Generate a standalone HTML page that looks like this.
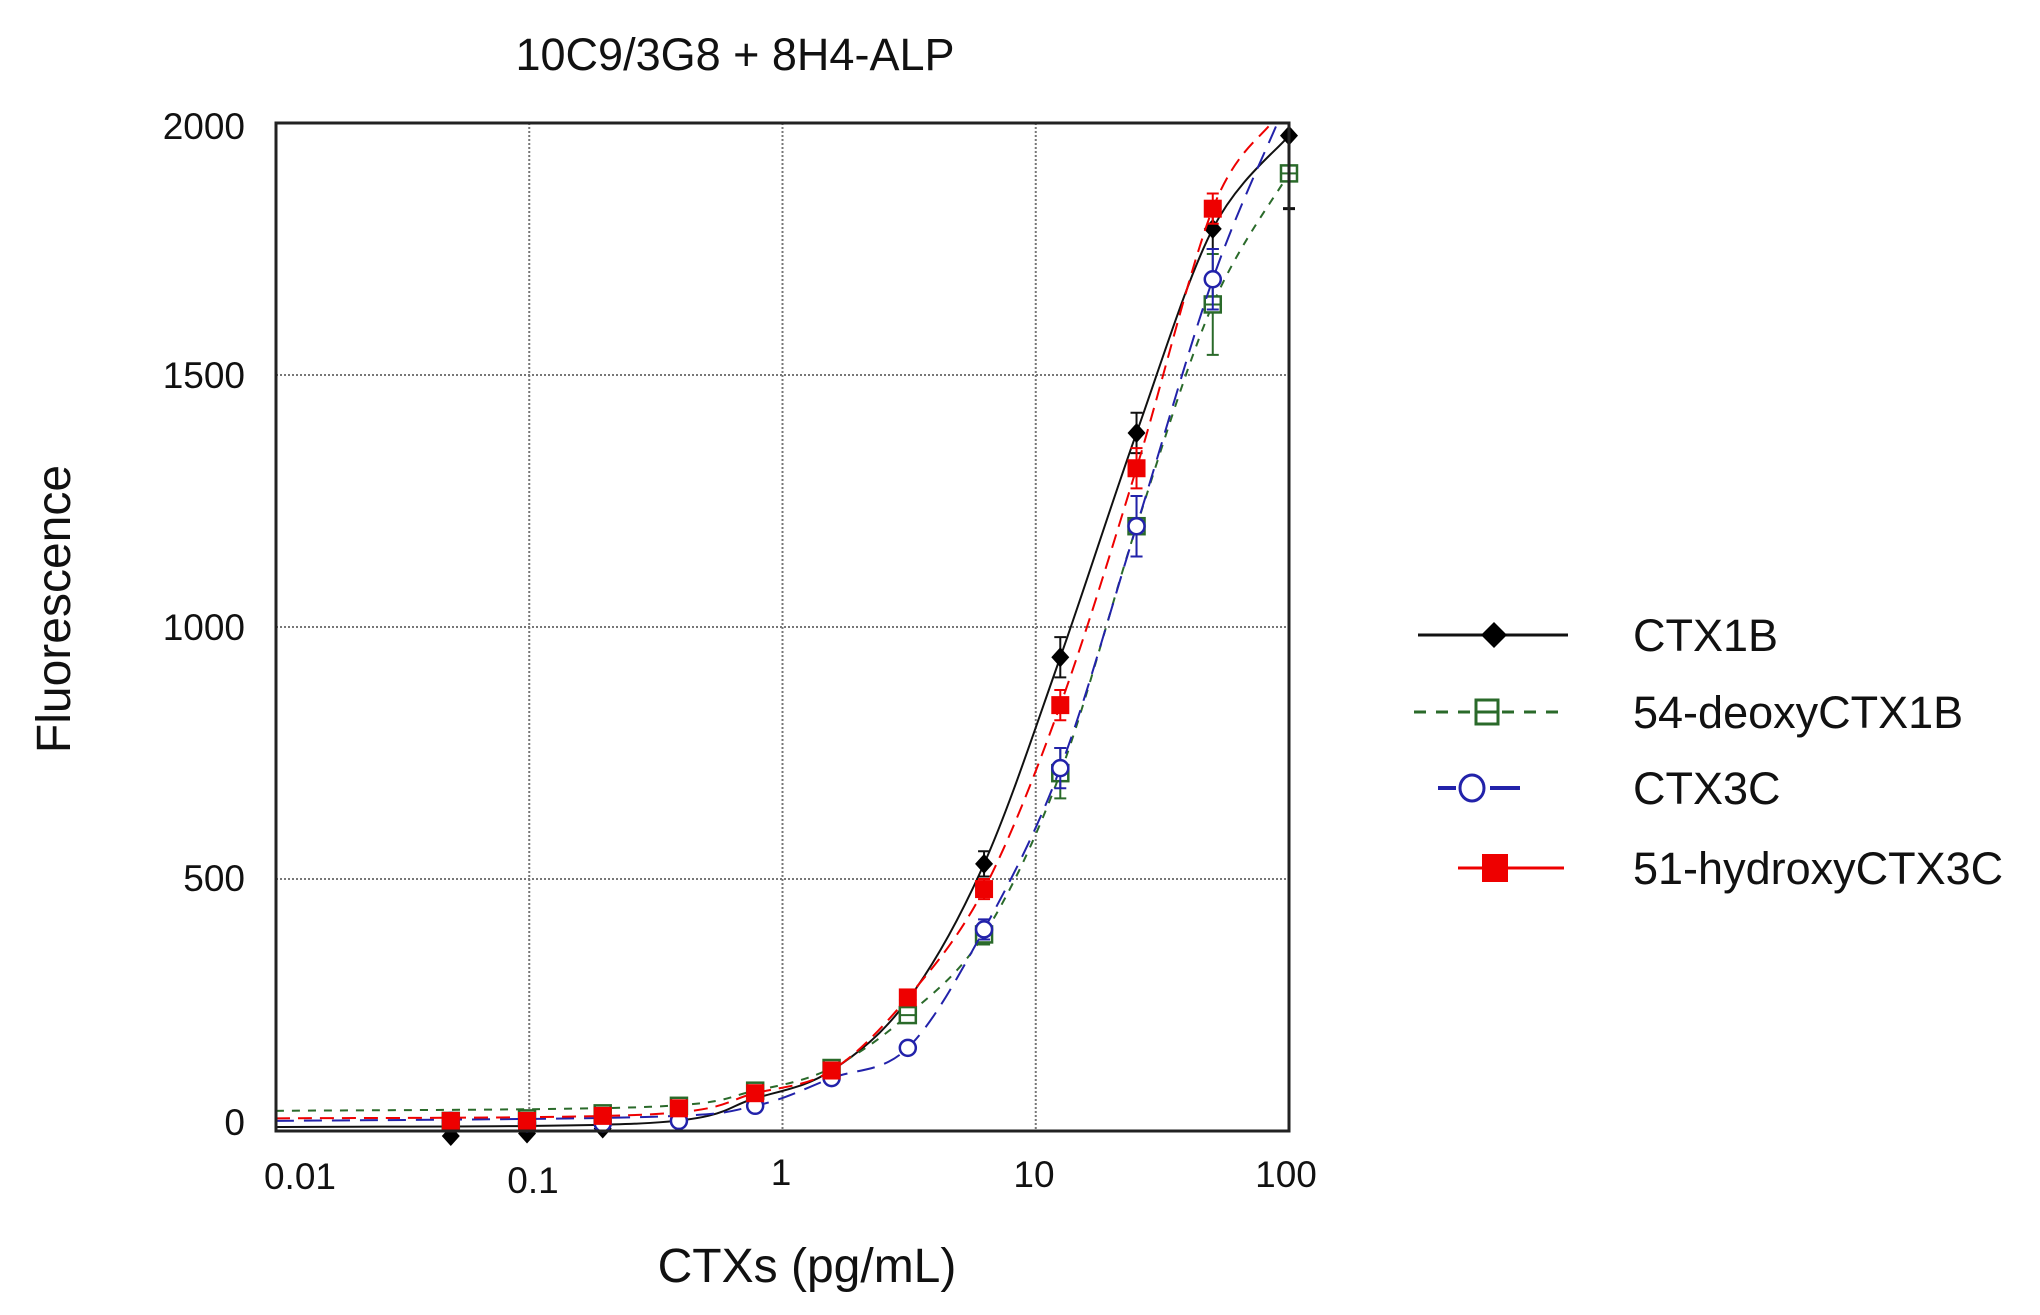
<!DOCTYPE html>
<html><head><meta charset="utf-8"><style>
html,body{margin:0;padding:0;background:#fff;}
svg{display:block;font-family:"Liberation Sans",sans-serif;}
</style></head><body>
<svg id="s" width="2040" height="1315" xmlns="http://www.w3.org/2000/svg">
<g fill="#111">
<text x="735" y="70" text-anchor="middle" font-size="45">10C9/3G8 + 8H4-ALP</text>
<text x="807" y="1282" text-anchor="middle" font-size="48">CTXs (pg/mL)</text>
<text transform="translate(70,609) rotate(-90)" text-anchor="middle" font-size="48">Fluorescence</text>
</g>
<g font-size="37" fill="#111">
<text x="245" y="139" text-anchor="end">2000</text>
<text x="245" y="388" text-anchor="end">1500</text>
<text x="245" y="640" text-anchor="end">1000</text>
<text x="245" y="891" text-anchor="end">500</text>
<text x="245" y="1135" text-anchor="end">0</text>
<text x="300" y="1189" text-anchor="middle">0.01</text>
<text x="533" y="1193" text-anchor="middle">0.1</text>
<text x="781" y="1185" text-anchor="middle">1</text>
<text x="1034" y="1187" text-anchor="middle">10</text>
<text x="1286" y="1187" text-anchor="middle">100</text>
</g>
<g id="grid" stroke="#777" stroke-width="2" stroke-dasharray="2,2"></g>
<g id="series"></g>
<rect x="276" y="123" width="1013" height="1008" fill="none" stroke="#222" stroke-width="3"/>
<g font-size="45" fill="#111">
<line x1="1418" y1="635" x2="1568" y2="635" stroke="#111" stroke-width="3"/>
<polygon points="1494,622 1507,635 1494,648 1481,635" fill="#000"/>
<text x="1633" y="651">CTX1B</text>
<line x1="1414" y1="712" x2="1568" y2="712" stroke="#2a6a2a" stroke-width="3" stroke-dasharray="12,10"/>
<rect x="1476" y="700" width="22" height="24" fill="#fff" stroke="#2a6a2a" stroke-width="3"/>
<line x1="1476" y1="712" x2="1498" y2="712" stroke="#2a6a2a" stroke-width="3"/>
<text x="1633" y="728">54-deoxyCTX1B</text>
<line x1="1438" y1="788" x2="1456" y2="788" stroke="#2222aa" stroke-width="4"/>
<line x1="1490" y1="788" x2="1520" y2="788" stroke="#2222aa" stroke-width="4"/>
<ellipse cx="1472" cy="788" rx="12" ry="13" fill="#fff" stroke="#2222aa" stroke-width="3"/>
<text x="1633" y="804">CTX3C</text>
<line x1="1458" y1="868" x2="1564" y2="868" stroke="#e00" stroke-width="3"/>
<rect x="1482" y="854" width="26" height="28" fill="#e00"/>
<text x="1633" y="884">51-hydroxyCTX3C</text>
</g>
</svg>
<script>
const X=v=>276+(Math.log10(v)+2)*253.25, Y=v=>1131-v*0.504;
const g=document.getElementById('grid');let h='';
for(let d=1;d<4;d++){const x=276+d*253.25;h+=`<line x1="${x}" y1="123" x2="${x}" y2="1131"/>`;}
for(let v=500;v<2000;v+=500){h+=`<line x1="276" y1="${Y(v)}" x2="1289" y2="${Y(v)}"/>`;}
g.innerHTML=h;
const xs=[0.049,0.098,0.195,0.39,0.78,1.5625,3.125,6.25,12.5,25,50,100];
const S=[
{c:'#111',d:'',m:'d',base:8,end:[100,1975],y:[-10,-5,5,25,65,120,260,530,940,1385,1790,1975],e:[0,0,0,0,0,10,15,25,40,40,40,0]},
{c:'#2a6a2a',d:'8,8',m:'s',base:40,end:[100,1900],y:[20,25,35,50,80,125,230,390,710,1200,1640,1900],e:[0,0,0,0,0,10,15,20,50,60,100,0]},
{c:'#2222aa',d:'18,10',m:'o',base:20,end:[90,2000],y:[20,15,15,20,50,105,165,400,720,1200,1690,null],e:[0,0,0,0,0,10,0,20,40,60,60,0]},
{c:'#e00',d:'14,8',m:'r',base:25,end:[85,2000],y:[20,20,30,45,75,120,265,480,845,1315,1830,null],e:[0,0,0,0,0,0,10,20,30,40,30,0]}];
let out='';
S.forEach(s=>{
 let pts=[[X(0.01),Y(s.base)],[X(0.3),Y(s.base+8)]];
 xs.forEach((x,i)=>{if(s.y[i]!==null&&x>=0.7)pts.push([X(x),Y(s.y[i])]);});
 if(s.y[11]===null)pts.push([X(s.end[0]),Y(s.end[1])]);
 let p=`M${pts[0][0]},${pts[0][1]}`;
 for(let i=0;i<pts.length-1;i++){const p0=pts[i-1]||pts[i],p1=pts[i],p2=pts[i+1],p3=pts[i+2]||p2;
  const c1=[p1[0]+(p2[0]-p0[0])/6,p1[1]+(p2[1]-p0[1])/6],c2=[p2[0]-(p3[0]-p1[0])/6,p2[1]-(p3[1]-p1[1])/6];
  p+=` C${c1[0]},${c1[1]} ${c2[0]},${c2[1]} ${p2[0]},${p2[1]}`;}
 out+=`<path d="${p}" fill="none" stroke="${s.c}" stroke-width="2" ${s.d?`stroke-dasharray="${s.d}"`:''}/>`;
 xs.forEach((x,i)=>{const v=s.y[i];if(v===null)return;const cx=X(x),cy=Y(v);
  if(s.e[i]){out+=`<path d="M${cx},${Y(v-s.e[i])}V${Y(v+s.e[i])}M${cx-6},${Y(v-s.e[i])}h12M${cx-6},${Y(v+s.e[i])}h12" stroke="${s.c}" stroke-width="2" fill="none"/>`;}
  if(s.m=='d')out+=`<polygon points="${cx},${cy-10} ${cx+9},${cy} ${cx},${cy+10} ${cx-9},${cy}" fill="#000"/>`;
  if(s.m=='s')out+=`<rect x="${cx-8}" y="${cy-8}" width="16" height="16" fill="#fff" stroke="${s.c}" stroke-width="2.5"/><line x1="${cx-8}" y1="${cy}" x2="${cx+8}" y2="${cy}" stroke="${s.c}" stroke-width="2"/>`;
  if(s.m=='o')out+=`<ellipse cx="${cx}" cy="${cy}" rx="8" ry="8" fill="#fff" stroke="${s.c}" stroke-width="2.5"/>`;
  if(s.m=='r')out+=`<rect x="${cx-9}" y="${cy-9}" width="18" height="18" fill="#e00"/>`;
 });
});
const cx=X(100);
out+=`<path d="M${cx},${Y(1975)}V${Y(1830)}M${cx-6},${Y(1830)}h12" stroke="#111" stroke-width="3" fill="none"/>`;
document.getElementById('series').innerHTML=out;
</script>
</body></html>
